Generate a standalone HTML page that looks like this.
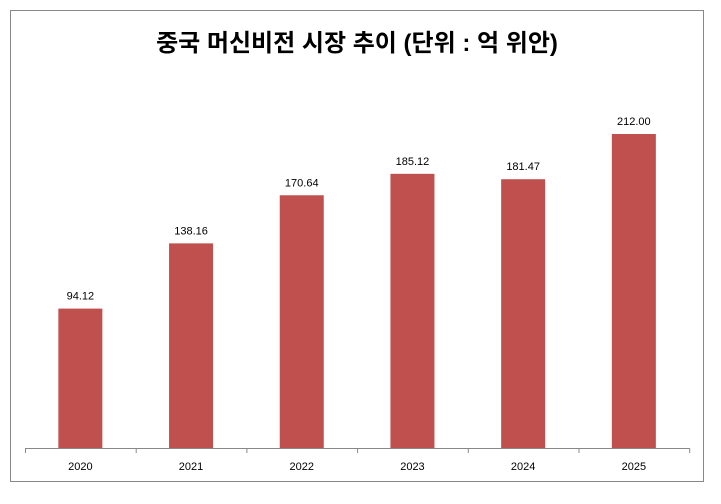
<!DOCTYPE html>
<html><head><meta charset="utf-8">
<style>
html,body{margin:0;padding:0;background:#fff;}
body{width:721px;height:499px;overflow:hidden;}
svg text{font-family:"Liberation Sans","Noto Sans CJK KR",sans-serif;}
</style></head>
<body>
<svg id="chart" width="721" height="499" viewBox="0 0 721 499" xmlns="http://www.w3.org/2000/svg">
<rect x="10.5" y="10.5" width="693" height="471" fill="#fff" stroke="#888" stroke-width="1"/>
<text x="357" y="51" text-anchor="middle" font-size="24" font-weight="bold" fill="#000">중국 머신비전 시장 추이 (단위 : 억 위안)</text>
<g id="plot"></g>
</svg>
<script>
const categories = ["2020","2021","2022","2023","2024","2025"];
const values = [94.12,138.16,170.64,185.12,181.47,212.00];
const valueLabels = ["94.12","138.16","170.64","185.12","181.47","212.00"];

const NS="http://www.w3.org/2000/svg";
const plot=document.getElementById('plot');
const x0=25, step=110.7, baseY=448, topY=134, maxV=212, barW=44;
function xScale(i){return x0+step*(i+0.5);}
function yScale(v){return baseY-(v/maxV)*(baseY-topY);}
function mk(tag,attrs){const e=document.createElementNS(NS,tag);for(const k in attrs)e.setAttribute(k,attrs[k]);plot.appendChild(e);return e;}

categories.forEach((c,i)=>{
  const y=yScale(values[i]);
  const b=mk('rect',{x:xScale(i)-barW/2,y:y,width:barW,height:baseY-y,fill:'#c0504d'});
  
  
  const t=mk('text',{x:xScale(i),y:y-9,'text-anchor':'middle','font-size':'11',fill:'#000'});
  t.textContent=valueLabels[i];
  
  
  const xl=mk('text',{x:xScale(i),y:470,'text-anchor':'middle','font-size':'11',fill:'#000'});
  xl.textContent=c;
  
  
});
const ax=mk('line',{x1:x0,y1:baseY+0.5,x2:x0+step*categories.length,y2:baseY+0.5,stroke:'#888','stroke-width':1});


for(let i=0;i<=categories.length;i++){
  const tk=mk('line',{x1:x0+step*i+0.5,y1:baseY,x2:x0+step*i+0.5,y2:baseY+5,stroke:'#888','stroke-width':1});
  
  
}
</script>
</body></html>
